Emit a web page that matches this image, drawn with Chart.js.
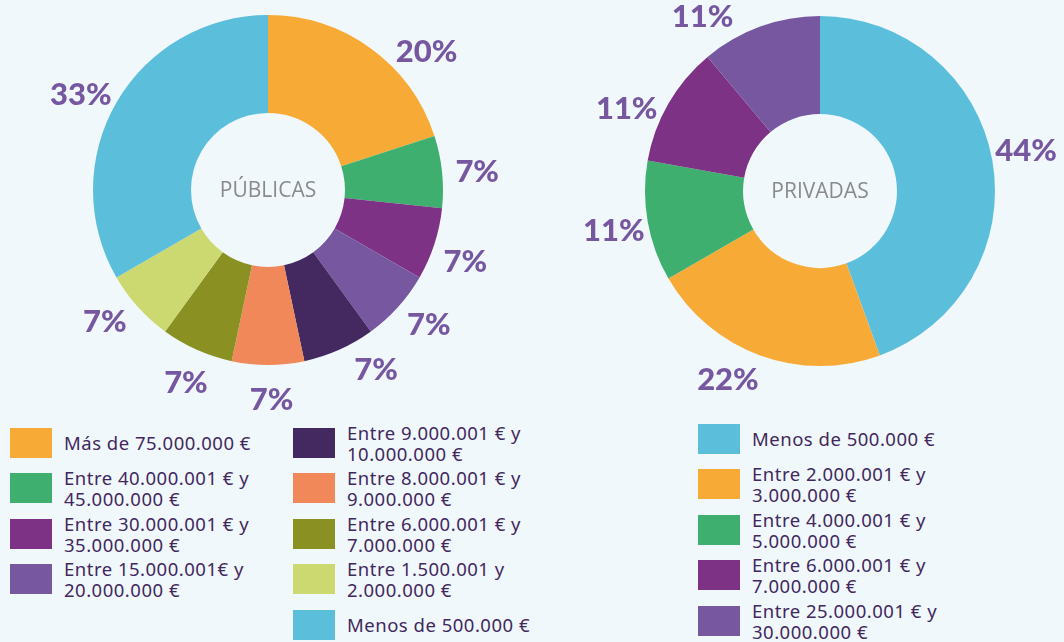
<!DOCTYPE html>
<html>
<head>
<meta charset="utf-8">
<script src="https://cdn.jsdelivr.net/npm/chart.js@4.4.0/dist/chart.umd.min.js"></script>
<style>
  html, body { margin: 0; padding: 0; }
  body { width: 1064px; height: 642px; background: #F0F8FB; position: relative; overflow: hidden; font-family: 'Noto Sans', sans-serif; }
  .wrap { position: absolute; width: 560px; height: 440px; }
  .legend { position: absolute; list-style: none; margin: 0; padding: 0; }
  .legend li { display: flex; align-items: center; height: 45.5px; }
  .legend .box { width: 42px; height: 30px; flex: none; margin-right: 12px; }
  .legend .txt { width: 215px; color: #42285E; font-size: 18.5px; letter-spacing: 0.5px; line-height: 21px; }
</style>
</head>
<body>
<div class="wrap" style="left:-12px; top:-30px;"><canvas id="publicas"></canvas></div>
<div class="wrap" style="left:540px; top:-29px;"><canvas id="privadas"></canvas></div>
<ul class="legend" id="legPub1" style="left:10px; top:420px;"></ul>
<ul class="legend" id="legPub2" style="left:293px; top:420px;"></ul>
<ul class="legend" id="legPriv" style="left:698px; top:416px;"></ul>

<script>
// Públicas
const pubLabels = ['Más de 75.000.000 €', 'Entre 40.000.001 € y 45.000.000 €', 'Entre 30.000.001 € y 35.000.000 €',
  'Entre 15.000.001€ y 20.000.000 €', 'Entre 9.000.001 € y 10.000.000 €', 'Entre 8.000.001 € y 9.000.000 €',
  'Entre 6.000.001 € y 7.000.000 €', 'Entre 1.500.001 y 2.000.000 €', 'Menos de 500.000 €'];
const pubValues = [3, 1, 1, 1, 1, 1, 1, 1, 5];
const pubColors = ['#F7AB36', '#3EAF6F', '#7D3285', '#7757A0', '#432960', '#F0885A', '#8A9122', '#CCD870', '#5BBFDB'];
const pubNudge = [13, 1, 2, -2, -7, -1, -1, 3, -3];

// Privadas
const privLabels = ['Menos de 500.000 €', 'Entre 2.000.001 € y 3.000.000 €', 'Entre 4.000.001 € y 5.000.000 €',
  'Entre 6.000.001 € y 7.000.000 €', 'Entre 25.000.001 € y 30.000.000 €'];
const privValues = [4, 2, 1, 1, 1];
const privColors = ['#5BBFDB', '#F7AB36', '#3EAF6F', '#7D3285', '#7757A0'];
const privNudge = [-1, 6, -1, -7, -14];

const pctLabels = {
  id: 'pctLabels',
  afterDatasetsDraw(chart, args, opts) {
    const ctx = chart.ctx;
    const data = chart.data.datasets[0].data;
    const total = data.reduce((a, b) => a + b, 0);
    ctx.save();
    ctx.font = "900 31px Lato";
    ctx.fillStyle = '#7757A0';
    ctx.textAlign = 'center';
    ctx.textBaseline = 'middle';
    chart.getDatasetMeta(0).data.forEach((arc, i) => {
      const a = (arc.startAngle + arc.endAngle) / 2 + (opts.nudge[i] || 0) * Math.PI / 180;
      const r = arc.outerRadius + 35;
      ctx.fillText(Math.round(data[i] / total * 100) + '%', arc.x + Math.cos(a) * r, arc.y + Math.sin(a) * r);
    });
    // center title
    const arc0 = chart.getDatasetMeta(0).data[0];
    ctx.font = "21px 'Open Sans'";
    ctx.fillStyle = '#8A8A8A';
    ctx.fillText(opts.title, arc0.x, arc0.y + 1);
    ctx.restore();
  }
};

function makeDonut(id, labels, values, colors, title, nudge) {
  new Chart(document.getElementById(id), {
    type: 'doughnut',
    data: {
      labels: labels,
      datasets: [{ data: values, backgroundColor: colors, borderWidth: 0 }]
    },
    options: {
      responsive: false,
      animation: false,
      cutout: '44%',
      layout: { padding: { top: 45, bottom: 45, left: 105, right: 105 } },
      plugins: {
        legend: { display: false },
        tooltip: { enabled: false },
        pctLabels: { title: title, nudge: nudge }
      }
    },
    plugins: [pctLabels]
  });
}

function makeLegend(id, labels, colors) {
  const ul = document.getElementById(id);
  labels.forEach((l, i) => {
    const li = document.createElement('li');
    li.innerHTML = '<span class="box" style="background:' + colors[i] + '"></span><span class="txt">' + l + '</span>';
    ul.appendChild(li);
  });
}

document.getElementById('publicas').width = 560;
document.getElementById('publicas').height = 440;
document.getElementById('privadas').width = 560;
document.getElementById('privadas').height = 440;

makeDonut('publicas', pubLabels, pubValues, pubColors, 'PÚBLICAS', pubNudge);
makeDonut('privadas', privLabels, privValues, privColors, 'PRIVADAS', privNudge);

makeLegend('legPub1', pubLabels.slice(0, 4), pubColors.slice(0, 4));
makeLegend('legPub2', pubLabels.slice(4), pubColors.slice(4));
makeLegend('legPriv', privLabels, privColors);
</script>
</body>
</html>
